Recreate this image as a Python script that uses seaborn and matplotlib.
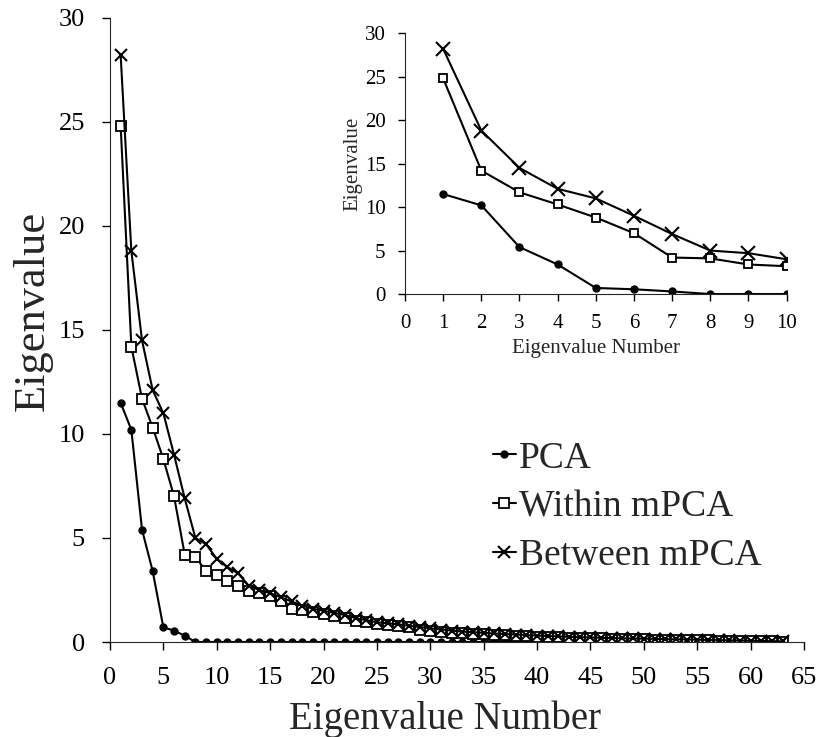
import pandas as pd
import matplotlib
matplotlib.use("Agg")
import matplotlib.pyplot as plt
import seaborn as sns

# eigenvalue index 1..63
n_eig = list(range(1, 64))

pca = [11.5, 10.2, 5.4, 3.4, 0.7, 0.55, 0.3] + [0.0] * 56

within = [24.8, 14.2, 11.7, 10.3, 8.8, 7.0, 4.2, 4.1, 3.4, 3.2,
          2.95, 2.7, 2.45, 2.35, 2.2, 1.95, 1.6, 1.55, 1.45, 1.35,
          1.25, 1.15, 1.0, 0.95, 0.85, 0.8, 0.75, 0.7, 0.6, 0.55,
          0.5, 0.45, 0.42, 0.4, 0.37, 0.34, 0.32, 0.3, 0.28, 0.26,
          0.24, 0.22, 0.2, 0.19, 0.18, 0.17, 0.16, 0.15, 0.14, 0.13,
          0.12, 0.11, 0.1, 0.09, 0.08, 0.08, 0.07, 0.06, 0.05, 0.05,
          0.04, 0.03, 0.02]

between = [28.2, 18.8, 14.5, 12.1, 11.0, 9.0, 6.9, 5.0, 4.7, 4.0,
           3.6, 3.3, 2.7, 2.5, 2.35, 2.15, 1.95, 1.75, 1.6, 1.5,
           1.4, 1.3, 1.15, 1.05, 0.95, 0.9, 0.85, 0.78, 0.72, 0.66,
           0.6, 0.55, 0.5, 0.47, 0.44, 0.41, 0.38, 0.36, 0.33, 0.31,
           0.29, 0.27, 0.25, 0.23, 0.22, 0.2, 0.19, 0.18, 0.17, 0.16,
           0.15, 0.14, 0.13, 0.12, 0.11, 0.1, 0.09, 0.08, 0.07, 0.06,
           0.05, 0.04, 0.03]

labels = ["PCA", "Within mPCA", "Between mPCA"]

df = pd.DataFrame({"n": n_eig, "PCA": pca, "Within mPCA": within, "Between mPCA": between})

sns.set_style("ticks")
plt.rcParams["font.family"] = ["Liberation Serif", "DejaVu Serif"]
plt.rcParams["xtick.direction"] = "out"
plt.rcParams["ytick.direction"] = "out"

# marker look per series
styles = {
    "PCA": dict(marker="o", mfc="black", mec="black", mew=1.0),
    "Within mPCA": dict(marker="s", mfc="white", mec="black", mew=1.3),
    "Between mPCA": dict(marker="x", mfc="black", mec="black", mew=1.5),
}
main_ms = {"PCA": 5, "Within mPCA": 6.5, "Between mPCA": 9}
inset_ms = {"PCA": 5, "Within mPCA": 6, "Between mPCA": 10}

fig = plt.figure(figsize=(8.19, 7.37), dpi=100)
ax = fig.add_axes([0.1343, 0.1289, 0.8474, 0.8467])

for lab in labels:
    sns.lineplot(data=df, x="n", y=lab, ax=ax, color="black", linewidth=1.5,
                 ms=main_ms[lab], label=lab, **styles[lab])

ax.set_xlim(0, 65)
ax.set_ylim(0, 30)
ax.set_xticks(range(0, 66, 5))
ax.set_yticks(range(0, 31, 5))
ax.tick_params(labelsize=19, length=6, width=1, colors="black")
ax.tick_params(axis="x", pad=12)
ax.tick_params(axis="y", pad=12)
ax.set_xlabel("Eigenvalue Number", fontsize=28, labelpad=8)
ax.set_ylabel("Eigenvalue", fontsize=32, labelpad=4)
ax.xaxis.label.set_x(0.482)
ax.yaxis.label.set_y(0.53)
sns.despine(ax=ax)
ax.legend(loc="upper left", bbox_to_anchor=(0.552, 0.322), frameon=False,
          fontsize=27, handlelength=0.6, handletextpad=0.1, labelspacing=0.38,
          borderaxespad=0, borderpad=0)

# inset with first ten eigenvalues
ins = fig.add_axes([0.4945, 0.601, 0.466, 0.354])
df10 = df[df["n"] <= 10]
for lab in labels:
    sns.lineplot(data=df10, x="n", y=lab, ax=ins, color="black", linewidth=1.5,
                 ms=inset_ms[lab], legend=False, **styles[lab])
ins.set_xlim(0, 10)
ins.set_ylim(0, 30)
ins.set_xticks(range(0, 11))
ins.set_yticks(range(0, 31, 5))
ins.tick_params(labelsize=15, length=5, width=1, colors="black", pad=9)
ins.set_xlabel("Eigenvalue Number", fontsize=15, labelpad=5)
ins.set_ylabel("Eigenvalue", fontsize=15, labelpad=2)
sns.despine(ax=ins)

fig.savefig("out.png", dpi=100)
